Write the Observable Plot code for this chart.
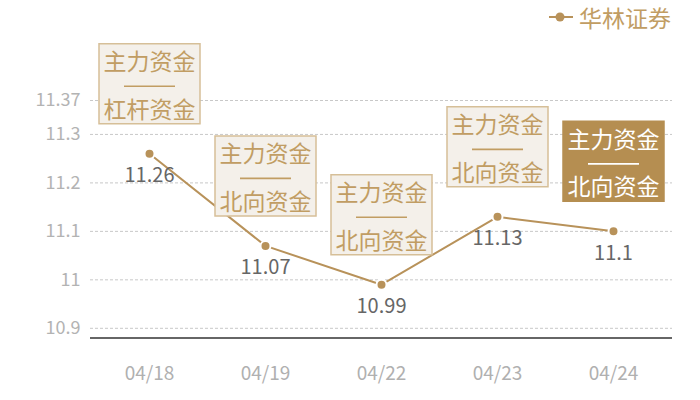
<!DOCTYPE html>
<html>
<head>
<meta charset="utf-8">
<script src="https://cdn.jsdelivr.net/npm/d3@7"></script>
<script src="https://cdn.jsdelivr.net/npm/@observablehq/plot@0.6"></script>
<style>
  html, body { margin: 0; padding: 0; background: #fff; }
  #wrap { position: relative; width: 700px; height: 400px; font-family: "Noto Sans CJK SC", sans-serif; }
  #legend { position: absolute; left: 548px; top: 4px; display: flex; align-items: center; gap: 5px; color: #c19d63; font-size: 23px; line-height: 26px; }
  #legend svg { display: block; }
</style>
</head>
<body>
<div id="wrap">
  <div id="chart"></div>
  <div id="legend">
    <svg width="26" height="12"><line x1="1" y1="6" x2="25" y2="6" stroke="#b8925a" stroke-width="2"/><circle cx="12" cy="6" r="4.5" fill="#b8925a"/></svg>
    <span>华林证券</span>
  </div>
</div>
<script>
const dates = ["04/18", "04/19", "04/22", "04/23", "04/24"];
const prices = [11.26, 11.07, 10.99, 11.13, 11.1];
const topLabels = ["主力资金", "主力资金", "主力资金", "主力资金", "主力资金"];
const bottomLabels = ["杠杆资金", "北向资金", "北向资金", "北向资金", "北向资金"];
const highlighted = [false, false, false, false, true];
const yTicks = [10.9, 11, 11.1, 11.2, 11.3, 11.37];
const yDomain = [10.88, 11.37];

const gold = "#b8925a";
const textGold = "#c19d63";
const boxFill = "#f4f0ea";
const boxStroke = "#d6bf98";
const darkBox = "#b58e51";

const data = dates.map((d, i) => ({
  date: d, price: prices[i], top: topLabels[i], bottom: bottomLabels[i], hl: highlighted[i]
}));

const boxSymbol = {
  draw(ctx) { ctx.rect(-50.5, -110, 101, 80); }
};
const dividerSymbol = {
  draw(ctx) { ctx.moveTo(-25.5, -67.5); ctx.lineTo(25.5, -67.5); }
};

const font = "'Noto Sans CJK SC', sans-serif";

const chart = Plot.plot({
  width: 700,
  height: 400,
  marginLeft: 90,
  marginRight: 28,
  marginTop: 100,
  marginBottom: 62.5,
  style: { fontFamily: font, background: "white" },
  color: { type: "identity" },
  x: { type: "point", domain: dates, padding: 0.5 },
  y: { domain: yDomain },
  marks: [
    Plot.gridY(yTicks, { stroke: "#c8c8c8", strokeOpacity: 1, strokeDasharray: "3,2" }),
    Plot.axisY(yTicks, { tickSize: 0, tickPadding: 10, fontSize: 18, fill: "#b3b3b3", tickFormat: d => String(d), label: null }),
    Plot.axisX({ tickSize: 0, tickPadding: 28, fontSize: 19, fill: "#b0b0b0", label: null }),
    Plot.ruleY([yDomain[0]], { stroke: "#333", strokeWidth: 1.5 }),
    Plot.line(data, { x: "date", y: "price", stroke: gold, strokeWidth: 2 }),
    Plot.dot(data, { x: "date", y: "price", r: 5, fill: gold, stroke: "white", strokeWidth: 2 }),
    Plot.text(data, { x: "date", y: "price", text: d => String(d.price), dy: 22, fill: "#666", fontSize: 20 }),
    Plot.dot(data, { x: "date", y: "price", symbol: boxSymbol, r: 10,
      fill: d => d.hl ? darkBox : boxFill, stroke: d => d.hl ? darkBox : boxStroke, strokeWidth: 1.5 }),
    Plot.dot(data, { x: "date", y: "price", symbol: dividerSymbol, r: 10, fill: "none",
      stroke: d => d.hl ? "white" : textGold, strokeWidth: 1.6 }),
    Plot.text(data, { x: "date", y: "price", text: "top", dy: -91, fontSize: 23,
      fill: d => d.hl ? "white" : textGold }),
    Plot.text(data, { x: "date", y: "price", text: "bottom", dy: -43.5, fontSize: 23,
      fill: d => d.hl ? "white" : textGold })
  ]
});
document.getElementById("chart").appendChild(chart);
</script>
</body>
</html>
